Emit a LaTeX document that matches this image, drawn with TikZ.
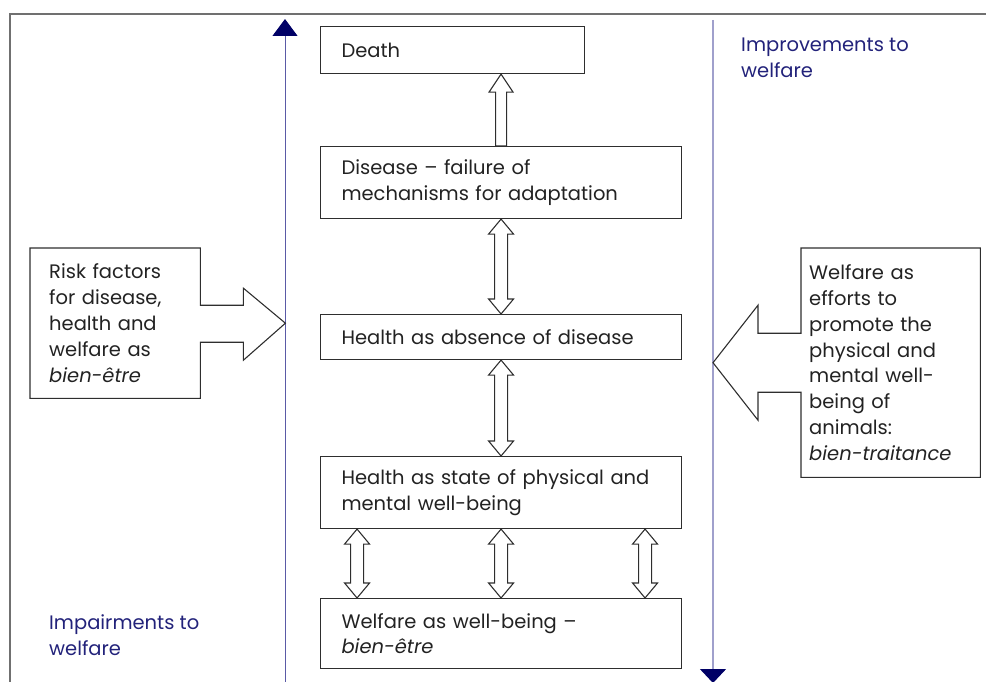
\documentclass[tikz,border=0pt]{standalone}
\usepackage{fontspec}
\setmainfont{Poppins}
\usepackage{xcolor}
\usepackage{tikz}
\usetikzlibrary{
  arrows.meta,
  positioning,
  calc
}
\definecolor{boxgray}{HTML}{2E2E2E}
\definecolor{txtgray}{HTML}{222222}
\definecolor{lblblue}{HTML}{22227A}
\definecolor{headblue}{HTML}{000066}
\definecolor{leftline}{HTML}{5A5AA6}
\definecolor{rightline}{HTML}{A0A0CC}
\definecolor{framegray}{HTML}{707070}

% hollow arrow pointing up, #1 = foot, #2 = tip
\newcommand{\hollowup}[2]{%
  \draw[hollow] let \p1=(#1), \p2=(#2) in
    (\x1-5.5pt,\y1) -- (\x1-5.5pt,\y2-18pt) -- (\x1-12pt,\y2-18pt) -- (\x1,\y2)
    -- (\x1+12pt,\y2-18pt) -- (\x1+5.5pt,\y2-18pt) -- (\x1+5.5pt,\y1) -- cycle;}
% hollow double arrow, #1 = upper tip, #2 = lower tip
\newcommand{\hollowboth}[2]{%
  \draw[hollow] let \p1=(#1), \p2=(#2) in
    (\x1,\y1) -- (\x1+12.5pt,\y1-15pt) -- (\x1+6.5pt,\y1-15pt) -- (\x1+6.5pt,\y2+15pt)
    -- (\x1+12.5pt,\y2+15pt) -- (\x1,\y2) -- (\x1-12.5pt,\y2+15pt) -- (\x1-6.5pt,\y2+15pt)
    -- (\x1-6.5pt,\y1-15pt) -- (\x1-12.5pt,\y1-15pt) -- cycle;}

\begin{document}
\begin{tikzpicture}[
  x=1pt, y=-1pt,
  every node/.style={font=\fontsize{19.5}{25.8}\selectfont, text=txtgray},
  stage/.style={draw=boxgray, line width=1.1pt, anchor=north west,
               inner xsep=21pt, inner ysep=0pt, text width=319pt, align=left},
  sidebox/.style={anchor=north west, inner ysep=0pt, align=left},
  callout/.style={draw=boxgray, line width=1.1pt, line join=miter},
  hollow/.style={draw=boxgray, line width=1.1pt, line join=miter},
  axislbl/.style={text=lblblue, align=left, anchor=west, inner sep=0pt},
]
  \useasboundingbox (0,0) rectangle (986,682);
  \draw[framegray, line width=1.5pt] (10,682) -- (10,14) -- (986,14);

  \node[stage, text width=222pt, minimum height=47pt] (death) at (320,26) {Death};
  \node[stage, minimum height=72pt] (dis) at (320,146)
    {Disease – failure of\\mechanisms for adaptation};
  \node[stage, minimum height=45pt] (hab) at (320,314) {Health as absence of disease};
  \node[stage, minimum height=72pt] (hst) at (320,456)
    {Health as state of physical and\\mental well-being};
  \node[stage, minimum height=70pt] (wb) at (320,598)
    {Welfare as well-being –\\\textit{bien-être}};

  \node[sidebox, text width=132pt, inner xsep=19pt, minimum height=150pt] (risk) at (30,248)
    {Risk factors\\for disease,\\health and\\welfare as\\\textit{bien-être}};
  \node[sidebox, text width=163pt, inner xsep=8pt, minimum height=229pt] (effort) at (801,248)
    {Welfare as\\efforts to\\promote the\\physical and\\mental well-\\being of\\animals:\\\textit{bien-traitance}};

  \node[axislbl] (impr) at (741,57.5) {Improvements to\\welfare};
  \node[axislbl] (impa) at (49,635) {Impairments to\\welfare};

  % axes
  \coordinate (lbot) at (285,683);
  \coordinate (ltop) at (285,19);
  \coordinate (rtop) at (713,20);
  \coordinate (rbot) at (713,683);
  \draw[leftline, line width=1pt, -{Triangle[width=25pt,length=17pt,color=headblue]}] (lbot) -- (ltop);
  \draw[rightline, line width=1.5pt, -{Triangle[width=26pt,length=14pt,color=headblue]}] (rtop) -- (rbot);

  % arrow-shaped outlines of the side boxes
  \draw[callout] (risk.east) ++(0,-18) -- ++(43,0) -- ++(0,-17) -- ++(42,35)
    -- ++(-42,37) -- ++(0,-18) -- ++(-43,0) -- (risk.south east) -- (risk.south west)
    -- (risk.north west) -- (risk.north east) -- cycle;
  \draw[callout] (effort.west) ++(0,-29.5) -- ++(-43,0) -- ++(0,-28) -- ++(-45,57.5)
    -- ++(45,57.5) -- ++(0,-28) -- ++(43,0) -- (effort.south west) -- (effort.south east)
    -- (effort.north east) -- (effort.north west) -- cycle;

  % links between stages
  \hollowup{dis.north}{death.south -| dis.north}
  \hollowboth{dis.south}{hab.north}
  \hollowboth{hab.south}{hst.north}
  \hollowboth{[xshift=-144pt]hst.south}{[xshift=-144pt]wb.north}
  \hollowboth{hst.south}{wb.north}
  \hollowboth{[xshift=144pt]hst.south}{[xshift=144pt]wb.north}
\end{tikzpicture}
\end{document}
